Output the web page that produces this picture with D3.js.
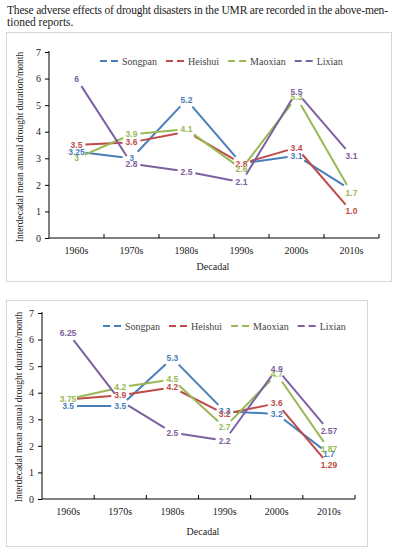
<!DOCTYPE html>
<html>
<head>
<meta charset="utf-8">
<script src="https://cdn.jsdelivr.net/npm/d3@7"></script>
<style>
  body { margin: 0; background: #fff; }
  svg { display: block; }
</style>
</head>
<body>
<div id="chart"></div>
<script>
// categories and series
const decades = ["1960s", "1970s", "1980s", "1990s", "2000s", "2010s"];
const seriesNames = ["Songpan", "Heishui", "Maoxian", "Lixian"];
const colors = ["#4a7ebb", "#be4b48", "#98b954", "#7d60a0"];
const yTicks = [0, 1, 2, 3, 4, 5, 6, 7];

// first chart values
const songpan1 = [3.25, 3, 5.2, 2.8, 3.1, 1.8];
const heishui1 = [3.5, 3.6, 4.0, 2.8, 3.4, 1.0];
const maoxian1 = [3, 3.9, 4.1, 2.6, 5.3, 1.7];
const lixian1 = [6, 2.8, 2.5, 2.1, 5.5, 3.1];
// data labels as printed (null = covered in the original)
const songpanLab1 = ["3.25", "3", "5.2", null, "3.1", null];
const heishuiLab1 = ["3.5", "3.6", null, "2.8", "3.4", "1.0"];
const maoxianLab1 = ["3", "3.9", "4.1", "2.6", "5.3", "1.7"];
const lixianLab1 = ["6", "2.8", "2.5", "2.1", "5.5", "3.1"];

// second chart values
const songpan2 = [3.5, 3.5, 5.3, 3.3, 3.2, 1.7];
const heishui2 = [3.75, 3.9, 4.2, 3.2, 3.6, 1.29];
const maoxian2 = [3.75, 4.2, 4.5, 2.7, 4.7, 1.87];
const lixian2 = [6.25, 3.7, 2.5, 2.2, 4.9, 2.57];
const songpanLab2 = ["3.5", "3.5", "5.3", "3.3", "3.2", "1.7"];
const heishuiLab2 = [null, "3.9", "4.2", "3.2", "3.6", "1.29"];
const maoxianLab2 = ["3.75", "4.2", "4.5", "2.7", "4.7", "1.87"];
const lixianLab2 = ["6.25", null, "2.5", "2.2", "4.9", "2.57"];

const W = 396, H = 550;
const serif = "'Liberation Serif', 'Times New Roman', serif";
const sans = "'Liberation Sans', Arial, sans-serif";

const svg = d3.select("#chart").append("svg")
    .attr("width", W)
    .attr("height", H);

// paragraph text above the figure
const para = svg.append("g")
    .style("font-family", serif)
    .style("font-size", "11.5px")
    .style("fill", "#222");
para.append("text").attr("x", 7).attr("y", 14)
    .attr("textLength", 381).attr("lengthAdjust", "spacing")
    .text("These adverse effects of drought disasters in the UMR are recorded in the above-men-");
para.append("text").attr("x", 7).attr("y", 26)
    .text("tioned reports.");

function drawChart(cfg) {
    const series = seriesNames.map((name, i) => ({
        name: name,
        color: colors[i],
        values: cfg.values[i],
        labels: cfg.labels[i]
    }));

    // panel frame
    svg.append("rect")
        .attr("x", cfg.frame[0] + 0.5).attr("y", cfg.frame[1] + 0.5)
        .attr("width", cfg.frame[2]).attr("height", cfg.frame[3])
        .style("fill", "none")
        .style("stroke", "#d6d6d6");

    const x = d3.scaleBand().domain(decades).range([cfg.left, cfg.right]);
    const y = d3.scaleLinear().domain([0, 7]).range([cfg.bottom, cfg.top]);
    const cx = d => x(d) + x.bandwidth() / 2;

    const g = svg.append("g");

    // y axis
    const yAxis = g.append("g")
        .attr("transform", "translate(" + cfg.left + ",0)")
        .call(d3.axisLeft(y).tickValues(yTicks).tickSize(4).tickPadding(4).tickFormat(d3.format("d")));
    yAxis.select(".domain").attr("d", "M0," + (cfg.top - 1) + "V" + cfg.bottom);

    // x axis, ticks between categories pointing up
    const xAxis = g.append("g")
        .attr("transform", "translate(0," + cfg.bottom + ")")
        .call(d3.axisBottom(x).tickSize(0).tickPadding(9));
    xAxis.select(".domain").attr("d", "M" + cfg.left + ",0H" + cfg.right);
    xAxis.selectAll(".sep")
        .data(decades)
        .enter().append("line")
        .attr("x1", d => x(d) + x.bandwidth()).attr("x2", d => x(d) + x.bandwidth())
        .attr("y1", 0).attr("y2", -4)
        .style("stroke", "#000");

    [yAxis, xAxis].forEach(a => {
        a.selectAll("path, line").style("stroke", "#000");
        a.selectAll("text")
            .style("font-family", serif)
            .style("font-size", "10px")
            .style("fill", "#222");
    });

    // axis titles
    g.append("text")
        .attr("transform", "translate(" + cfg.yTitle[0] + "," + cfg.yTitle[1] + ") rotate(-90)")
        .attr("text-anchor", "middle")
        .attr("dy", "0.35em")
        .style("font-family", serif)
        .style("font-size", "9.5px")
        .style("fill", "#222")
        .text("Interdecadal mean annual drought duration/month");

    g.append("text")
        .attr("x", cfg.xTitle[0]).attr("y", cfg.xTitle[1])
        .attr("text-anchor", "middle")
        .style("font-family", serif)
        .style("font-size", "10px")
        .style("fill", "#222")
        .text("Decadal");

    // lines: each segment stops short of the points, like the original
    const gap = 9;
    series.forEach(s => {
        const pts = s.values.map((v, i) => [cx(decades[i]), y(v)]);
        const segs = d3.pairs(pts).map(([a, b]) => {
            const dx = b[0] - a[0], dy = b[1] - a[1];
            const len = Math.sqrt(dx * dx + dy * dy);
            const ux = dx / len, uy = dy / len;
            return [[a[0] + ux * gap, a[1] + uy * gap], [b[0] - ux * gap, b[1] - uy * gap]];
        });
        g.append("g").selectAll("line")
            .data(segs)
            .enter().append("line")
            .attr("x1", d => d[0][0]).attr("y1", d => d[0][1])
            .attr("x2", d => d[1][0]).attr("y2", d => d[1][1])
            .style("stroke", s.color)
            .style("stroke-width", 2);
    });

    // data labels
    series.forEach(s => {
        g.append("g").selectAll("text")
            .data(s.values.map((v, i) => ({ v: v, i: i, t: s.labels[i] })).filter(d => d.t !== null))
            .enter().append("text")
            .attr("x", d => cx(decades[d.i]))
            .attr("y", d => y(d.v))
            .attr("dy", "0.35em")
            .attr("text-anchor", "middle")
            .style("font-family", sans)
            .style("font-size", "8.5px")
            .style("font-weight", "bold")
            .style("fill", s.color)
            .text(d => d.t);
    });

    // legend
    const leg = g.append("g").attr("transform", "translate(" + cfg.legend[0] + "," + cfg.legend[1] + ")");
    let lx = 0;
    series.forEach(s => {
        const item = leg.append("g").attr("transform", "translate(" + lx + ",0)");
        item.append("line")
            .attr("x1", 0).attr("x2", 22)
            .style("stroke", s.color)
            .style("stroke-width", 2)
            .style("stroke-dasharray", "7,4");
        const t = item.append("text")
            .attr("x", 22).attr("dy", "0.35em")
            .style("font-family", serif)
            .style("font-size", "10px")
            .style("fill", "#444")
            .text(s.name);
        lx += 22 + t.node().getComputedTextLength() + 9;
    });
}

drawChart({
    values: [songpan1, heishui1, maoxian1, lixian1],
    labels: [songpanLab1, heishuiLab1, maoxianLab1, lixianLab1],
    frame: [6, 32, 385, 249],
    left: 49, right: 379, top: 52, bottom: 238,
    yTitle: [20, 147],
    xTitle: [213, 270],
    legend: [100, 61]
});

drawChart({
    values: [songpan2, heishui2, maoxian2, lixian2],
    labels: [songpanLab2, heishuiLab2, maoxianLab2, lixianLab2],
    frame: [6, 300, 361, 246],
    left: 42, right: 355, top: 313, bottom: 499,
    yTitle: [19, 407],
    xTitle: [203, 535],
    legend: [103, 326]
});
</script>
</body>
</html>
